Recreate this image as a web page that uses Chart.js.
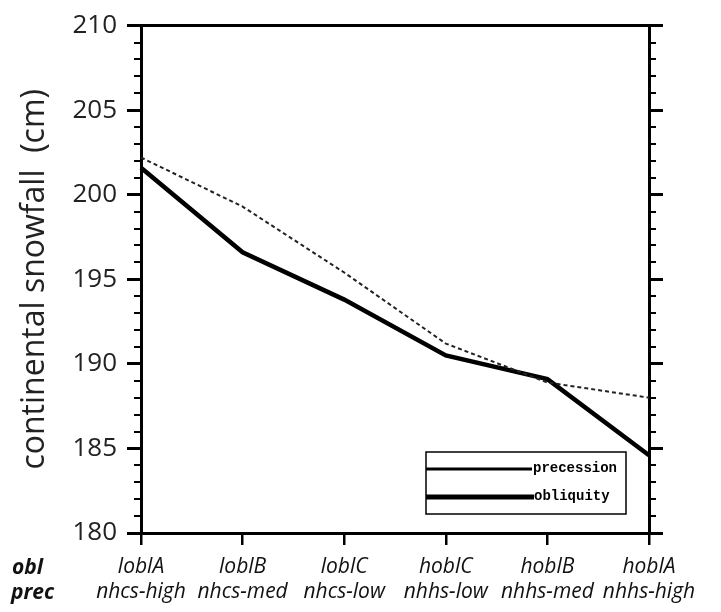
<!DOCTYPE html>
<html>
<head>
<meta charset="utf-8">
<script src="https://cdn.jsdelivr.net/npm/chart.js@4"></script>
<style>
html,body{margin:0;padding:0;background:#fff;}
#wrap{width:721px;height:612px;}
</style>
</head>
<body>
<div id="wrap"><canvas id="c" width="721" height="612"></canvas></div>
<script>
// ---- data ----
const oblLabels = ['loblA', 'loblB', 'loblC', 'hoblC', 'hoblB', 'hoblA'];
const precLabels = ['nhcs-high', 'nhcs-med', 'nhcs-low', 'nhhs-low', 'nhhs-med', 'nhhs-high'];
const precessionValues = [202.2, 199.3, 195.4, 191.2, 188.9, 188.0];
const obliquityValues = [201.6, 196.6, 193.8, 190.5, 189.1, 184.6];
const yMin = 180, yMax = 210, yMajorStep = 5, yMinorStep = 1;
const rowNames = ['obl', 'prec'];
const legendNames = ['precession', 'obliquity'];

const SANS = '"Open Sans", "Liberation Sans", sans-serif';

const framePlugin = {
  id: 'frame',
  afterDraw(chart) {
    const ctx = chart.ctx;
    const ys = chart.scales.y;
    const a = chart.chartArea;
    ctx.save();
    ctx.strokeStyle = '#000';
    // top border
    ctx.lineWidth = 3;
    ctx.beginPath();
    ctx.moveTo(a.left, a.top);
    ctx.lineTo(a.right, a.top);
    ctx.stroke();
    // minor ticks
    ctx.lineWidth = 2;
    for (let v = yMin; v <= yMax; v += yMinorStep) {
      if (v % yMajorStep === 0) continue;
      const py = Math.round(ys.getPixelForValue(v));
      ctx.beginPath();
      ctx.moveTo(a.left - 7, py); ctx.lineTo(a.left, py);
      ctx.moveTo(a.right, py); ctx.lineTo(a.right + 7, py);
      ctx.stroke();
    }
    // row names
    ctx.fillStyle = '#111';
    ctx.font = 'italic bold 21px ' + SANS;
    ctx.textAlign = 'left';
    ctx.textBaseline = 'alphabetic';
    ctx.fillText(rowNames[0], 12, 574);
    ctx.fillText(rowNames[1], 11, 599);
    // legend box
    const lx = 426, ly = 452, lw = 200, lh = 62;
    ctx.lineWidth = 1.5;
    ctx.fillStyle = '#fff';
    ctx.fillRect(lx, ly, lw, lh);
    ctx.strokeRect(lx, ly, lw, lh);
    ctx.lineWidth = 3;
    ctx.beginPath(); ctx.moveTo(lx, 469); ctx.lineTo(lx + 106, 469); ctx.stroke();
    ctx.lineWidth = 5;
    ctx.beginPath(); ctx.moveTo(lx, 497); ctx.lineTo(lx + 108, 497); ctx.stroke();
    ctx.fillStyle = '#000';
    ctx.textBaseline = 'middle';
    ctx.font = 'bold 14px "Liberation Mono", "DejaVu Sans Mono", monospace';
    ctx.fillText(legendNames[0], 533, 468);
    ctx.fillText(legendNames[1], 534, 496);
    ctx.restore();
  }
};

new Chart(document.getElementById('c'), {
  type: 'line',
  data: {
    labels: oblLabels.map((o, i) => [o, precLabels[i]]),
    datasets: [
      {
        label: legendNames[0],
        data: precessionValues,
        borderColor: '#222',
        borderWidth: 2,
        borderDash: [4, 3],
        pointRadius: 0,
        tension: 0,
        fill: false
      },
      {
        label: legendNames[1],
        data: obliquityValues,
        borderColor: '#000',
        borderWidth: 4.5,
        pointRadius: 0,
        tension: 0,
        fill: false
      }
    ]
  },
  options: {
    responsive: false,
    animation: false,
    devicePixelRatio: 1,
    layout: { padding: { top: 25, left: 0, right: 0, bottom: 0 } },
    plugins: { legend: { display: false }, tooltip: { enabled: false } },
    scales: {
      x: {
        type: 'category',
        offset: false,
        grid: { display: true, drawOnChartArea: false, drawTicks: true, tickLength: 12, color: '#000', lineWidth: 2.5 },
        border: { display: true, color: '#000', width: 3 },
        ticks: {
          color: '#111',
          font: { family: SANS, size: 21, style: 'italic', lineHeight: 1.17 },
          padding: 10,
          maxRotation: 0,
          autoSkip: false
        },
        afterFit(s) { s.height = 79; }
      },
      y: {
        position: 'left',
        min: yMin, max: yMax,
        grid: { display: true, drawOnChartArea: false, drawTicks: true, tickLength: 14, color: '#000', lineWidth: 3 },
        border: { display: true, color: '#000', width: 3 },
        ticks: {
          stepSize: yMajorStep,
          color: '#222',
          font: { family: SANS, size: 26 },
          padding: 10
        },
        title: {
          display: true,
          text: 'continental snowfall  (cm)',
          color: '#222',
          font: { family: SANS, size: 32 },
          padding: { top: 16, bottom: 0 }
        },
        afterFit(s) { s.width = 141; }
      },
      y2: {
        position: 'right',
        min: yMin, max: yMax,
        grid: { display: true, drawOnChartArea: false, drawTicks: true, tickLength: 14, color: '#000', lineWidth: 3 },
        border: { display: true, color: '#000', width: 3 },
        ticks: { stepSize: yMajorStep, display: false },
        afterFit(s) { s.width = 72; }
      }
    }
  },
  plugins: [framePlugin]
});
</script>
</body>
</html>
